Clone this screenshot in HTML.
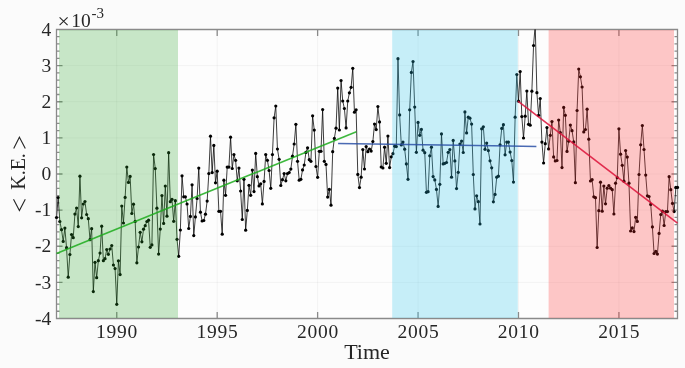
<!DOCTYPE html>
<html><head><meta charset="utf-8"><style>
html,body{margin:0;padding:0;background:#fbfbfb;}
body{width:685px;height:368px;overflow:hidden;font-family:"Liberation Serif",serif;}
svg{display:block;}
</style></head><body>
<svg width="685" height="368" viewBox="0 0 685 368">
<rect x="0" y="0" width="685" height="368" fill="#fbfbfb"/>
<rect x="56" y="29" width="622" height="290" fill="#fdfdfd"/>
<path d="M116.76 29.5V318.5M217.19 29.5V318.5M317.62 29.5V318.5M418.05 29.5V318.5M518.48 29.5V318.5M618.92 29.5V318.5M56.5 282.38H677.5M56.5 246.25H677.5M56.5 210.12H677.5M56.5 174.0H677.5M56.5 137.88H677.5M56.5 101.75H677.5M56.5 65.62H677.5" stroke="#000000" stroke-opacity="0.045" stroke-width="1" fill="none"/>
<path d="M56.5 29.5H677.5V318.5H56.5ZM116.76 318v-6M116.76 30v6M217.19 318v-6M217.19 30v6M317.62 318v-6M317.62 30v6M418.05 318v-6M418.05 30v6M518.48 318v-6M518.48 30v6M618.92 318v-6M618.92 30v6M56.5 318.5h6M677.5 318.5h-6M56.5 311.27h3M677.5 311.27h-3M56.5 304.05h3M677.5 304.05h-3M56.5 296.82h3M677.5 296.82h-3M56.5 289.6h3M677.5 289.6h-3M56.5 282.38h6M677.5 282.38h-6M56.5 275.15h3M677.5 275.15h-3M56.5 267.92h3M677.5 267.92h-3M56.5 260.7h3M677.5 260.7h-3M56.5 253.47h3M677.5 253.47h-3M56.5 246.25h6M677.5 246.25h-6M56.5 239.03h3M677.5 239.03h-3M56.5 231.8h3M677.5 231.8h-3M56.5 224.58h3M677.5 224.58h-3M56.5 217.35h3M677.5 217.35h-3M56.5 210.12h6M677.5 210.12h-6M56.5 202.9h3M677.5 202.9h-3M56.5 195.67h3M677.5 195.67h-3M56.5 188.45h3M677.5 188.45h-3M56.5 181.22h3M677.5 181.22h-3M56.5 174.0h6M677.5 174.0h-6M56.5 166.78h3M677.5 166.78h-3M56.5 159.55h3M677.5 159.55h-3M56.5 152.32h3M677.5 152.32h-3M56.5 145.1h3M677.5 145.1h-3M56.5 137.88h6M677.5 137.88h-6M56.5 130.65h3M677.5 130.65h-3M56.5 123.42h3M677.5 123.42h-3M56.5 116.2h3M677.5 116.2h-3M56.5 108.97h3M677.5 108.97h-3M56.5 101.75h6M677.5 101.75h-6M56.5 94.52h3M677.5 94.52h-3M56.5 87.3h3M677.5 87.3h-3M56.5 80.07h3M677.5 80.07h-3M56.5 72.85h3M677.5 72.85h-3M56.5 65.62h6M677.5 65.62h-6M56.5 58.4h3M677.5 58.4h-3M56.5 51.17h3M677.5 51.17h-3M56.5 43.95h3M677.5 43.95h-3M56.5 36.72h3M677.5 36.72h-3M56.5 29.5h6M677.5 29.5h-6" stroke="#8a8a8a" stroke-width="1.3" fill="none"/>
<defs><clipPath id="c"><rect x="56.5" y="29.5" width="621.0" height="289.0"/></clipPath></defs>
<g clip-path="url(#c)">
<path d="M56.50 217.5 L58.17 197.5 L59.85 221.5 L61.52 229.7 L63.20 241.4 L64.87 228.1 L66.54 247.7 L68.22 277.2 L69.89 254.5 L71.56 234.6 L73.24 237.7 L74.91 214.1 L76.59 208.0 L78.26 226.6 L79.93 176.2 L81.61 217.8 L83.28 204.0 L84.96 201.5 L86.63 214.5 L88.30 218.7 L89.98 239.7 L91.65 228.7 L93.32 291.6 L95.00 262.3 L96.67 277.7 L98.35 260.7 L100.02 253.1 L101.69 226.2 L103.37 260.7 L105.04 258.7 L106.72 249.5 L108.39 254.3 L110.06 249.0 L111.74 245.5 L113.41 265.0 L115.08 268.6 L116.76 304.3 L118.43 260.8 L120.11 274.6 L121.78 206.0 L123.45 223.0 L125.13 197.4 L126.80 167.0 L128.48 182.4 L130.15 176.4 L131.82 213.5 L133.50 204.2 L135.17 221.4 L136.85 262.8 L138.52 247.0 L140.19 232.3 L141.87 241.8 L143.54 229.2 L145.21 225.7 L146.89 221.5 L148.56 220.2 L150.24 247.3 L151.91 244.9 L153.58 154.5 L155.26 168.6 L156.93 208.2 L158.61 254.1 L160.28 229.1 L161.95 195.6 L163.63 223.4 L165.30 186.0 L166.97 216.2 L168.65 152.7 L170.32 201.7 L172.00 199.3 L173.67 221.3 L175.34 200.7 L177.02 239.3 L178.69 256.3 L180.37 230.0 L182.04 175.8 L183.71 196.8 L185.39 196.8 L187.06 204.0 L188.73 228.5 L190.41 216.4 L192.08 184.8 L193.76 235.6 L195.43 216.9 L197.10 198.5 L198.78 168.1 L200.45 212.2 L202.13 221.0 L203.80 220.5 L205.47 214.2 L207.15 201.1 L208.82 173.6 L210.49 136.2 L212.17 172.6 L213.84 145.4 L215.52 182.8 L217.19 171.2 L218.86 211.3 L220.54 211.3 L222.21 234.2 L223.89 180.2 L225.56 195.3 L227.23 167.1 L228.91 167.1 L230.58 137.2 L232.25 168.5 L233.93 154.6 L235.60 160.3 L237.28 180.8 L238.95 168.1 L240.62 191.0 L242.30 219.5 L243.97 179.3 L245.65 230.2 L247.32 210.4 L248.99 185.3 L250.67 195.3 L252.34 170.1 L254.01 191.6 L255.69 153.4 L257.36 176.7 L259.04 185.9 L260.71 183.8 L262.38 203.9 L264.06 181.4 L265.73 154.6 L267.41 160.3 L269.08 170.5 L270.75 188.3 L272.43 154.6 L274.10 117.8 L275.77 106.0 L277.45 149.0 L279.12 159.3 L280.80 185.5 L282.47 179.7 L284.14 173.6 L285.82 180.8 L287.49 173.6 L289.17 172.6 L290.84 169.1 L292.51 156.2 L294.19 144.0 L295.86 124.3 L297.54 161.3 L299.21 180.2 L300.88 179.3 L302.56 169.9 L304.23 165.0 L305.90 152.4 L307.58 147.8 L309.25 159.7 L310.93 161.3 L312.60 115.8 L314.27 130.1 L315.95 166.5 L317.62 177.3 L319.30 151.3 L320.97 151.3 L322.64 109.6 L324.32 161.3 L325.99 164.4 L327.66 197.1 L329.34 189.4 L331.01 205.2 L332.69 151.7 L334.36 138.4 L336.03 128.2 L337.71 88.1 L339.38 130.0 L341.06 80.5 L342.73 101.0 L344.40 108.5 L346.08 127.9 L347.75 101.0 L349.42 92.8 L351.10 87.3 L352.77 68.3 L354.45 112.2 L356.12 109.8 L357.79 174.4 L359.47 187.6 L361.14 177.2 L362.82 149.6 L364.49 169.0 L366.16 146.6 L367.84 151.7 L369.51 149.0 L371.18 151.1 L372.86 141.5 L374.53 124.1 L376.21 129.6 L377.88 106.5 L379.55 121.9 L381.23 167.0 L382.90 168.0 L384.58 147.2 L386.25 163.3 L387.92 136.0 L389.60 167.6 L391.27 156.8 L392.94 153.7 L394.62 146.2 L396.29 146.6 L397.97 58.7 L399.64 114.9 L401.31 144.9 L402.99 142.1 L404.66 149.2 L406.34 163.9 L408.01 179.3 L409.68 109.8 L411.36 72.4 L413.03 61.5 L414.70 107.1 L416.38 152.3 L418.05 122.4 L419.73 135.3 L421.40 129.4 L423.07 150.2 L424.75 152.7 L426.42 192.3 L428.10 191.7 L429.77 155.8 L431.44 147.2 L433.12 176.6 L434.79 179.9 L436.46 189.4 L438.14 206.4 L439.81 184.3 L441.49 133.9 L443.16 163.9 L444.83 163.3 L446.51 162.5 L448.18 152.3 L449.86 149.6 L451.53 177.2 L453.20 140.4 L454.88 160.9 L456.55 188.6 L458.23 172.3 L459.90 144.1 L461.57 141.1 L463.25 152.5 L464.92 111.9 L466.59 132.9 L468.27 117.2 L469.94 118.2 L471.62 124.1 L473.29 174.5 L474.96 208.9 L476.64 195.8 L478.31 201.7 L479.99 224.0 L481.66 128.8 L483.33 126.8 L485.01 149.3 L486.68 143.1 L488.35 150.6 L490.03 160.8 L491.70 167.8 L493.38 201.8 L495.05 194.4 L496.72 177.2 L498.40 176.2 L500.07 144.8 L501.75 128.4 L503.42 124.7 L505.09 154.8 L506.77 142.1 L508.44 142.1 L510.11 152.1 L511.79 160.6 L513.46 182.1 L515.14 117.2 L516.81 74.5 L518.48 101.2 L520.16 71.6 L521.83 116.6 L523.51 138.0 L525.18 116.2 L526.85 91.0 L528.53 124.3 L530.20 125.2 L531.87 91.2 L533.55 45.5 L535.22 25.0 L536.90 92.7 L538.57 115.3 L540.24 98.5 L541.92 142.1 L543.59 163.0 L545.27 143.7 L546.94 127.6 L548.61 148.9 L550.29 135.3 L551.96 121.5 L553.63 156.9 L555.31 161.0 L556.98 160.5 L558.66 120.0 L560.33 132.5 L562.00 167.6 L563.68 107.4 L565.35 115.3 L567.03 151.4 L568.70 141.2 L570.37 125.1 L572.05 130.7 L573.72 141.9 L575.39 182.7 L577.07 110.5 L578.74 69.0 L580.42 76.8 L582.09 87.0 L583.76 131.9 L585.44 129.5 L587.11 109.2 L588.79 139.2 L590.46 181.0 L592.13 179.7 L593.81 196.8 L595.48 197.7 L597.15 247.5 L598.83 210.7 L600.50 182.2 L602.18 211.2 L603.85 186.0 L605.52 203.8 L607.20 188.2 L608.87 185.5 L610.55 188.2 L612.22 189.7 L613.89 214.0 L615.57 183.2 L617.24 177.7 L618.92 128.8 L620.59 154.2 L622.26 165.3 L623.94 181.2 L625.61 150.5 L627.28 157.1 L628.96 183.2 L630.63 231.0 L632.31 227.9 L633.98 231.6 L635.65 217.3 L637.33 221.4 L639.00 174.5 L640.68 144.8 L642.35 125.5 L644.02 149.5 L645.70 175.1 L647.37 195.8 L649.04 196.5 L650.72 204.4 L652.39 226.9 L654.07 253.5 L655.74 251.4 L657.41 254.1 L659.09 233.4 L660.76 214.6 L662.44 211.2 L664.11 225.5 L665.78 211.6 L667.46 211.6 L669.13 176.7 L670.80 189.7 L672.48 203.4 L674.15 211.6 L675.83 187.4 L677.50 187.4" stroke="#000" stroke-width="0.9" fill="none" stroke-linejoin="round" stroke-opacity="0.85"/>
</g>
<g fill="#000"><circle cx="56.50" cy="217.5" r="1.6"/><circle cx="58.17" cy="197.5" r="1.6"/><circle cx="59.85" cy="221.5" r="1.6"/><circle cx="61.52" cy="229.7" r="1.6"/><circle cx="63.20" cy="241.4" r="1.6"/><circle cx="64.87" cy="228.1" r="1.6"/><circle cx="66.54" cy="247.7" r="1.6"/><circle cx="68.22" cy="277.2" r="1.6"/><circle cx="69.89" cy="254.5" r="1.6"/><circle cx="71.56" cy="234.6" r="1.6"/><circle cx="73.24" cy="237.7" r="1.6"/><circle cx="74.91" cy="214.1" r="1.6"/><circle cx="76.59" cy="208.0" r="1.6"/><circle cx="78.26" cy="226.6" r="1.6"/><circle cx="79.93" cy="176.2" r="1.6"/><circle cx="81.61" cy="217.8" r="1.6"/><circle cx="83.28" cy="204.0" r="1.6"/><circle cx="84.96" cy="201.5" r="1.6"/><circle cx="86.63" cy="214.5" r="1.6"/><circle cx="88.30" cy="218.7" r="1.6"/><circle cx="89.98" cy="239.7" r="1.6"/><circle cx="91.65" cy="228.7" r="1.6"/><circle cx="93.32" cy="291.6" r="1.6"/><circle cx="95.00" cy="262.3" r="1.6"/><circle cx="96.67" cy="277.7" r="1.6"/><circle cx="98.35" cy="260.7" r="1.6"/><circle cx="100.02" cy="253.1" r="1.6"/><circle cx="101.69" cy="226.2" r="1.6"/><circle cx="103.37" cy="260.7" r="1.6"/><circle cx="105.04" cy="258.7" r="1.6"/><circle cx="106.72" cy="249.5" r="1.6"/><circle cx="108.39" cy="254.3" r="1.6"/><circle cx="110.06" cy="249.0" r="1.6"/><circle cx="111.74" cy="245.5" r="1.6"/><circle cx="113.41" cy="265.0" r="1.6"/><circle cx="115.08" cy="268.6" r="1.6"/><circle cx="116.76" cy="304.3" r="1.6"/><circle cx="118.43" cy="260.8" r="1.6"/><circle cx="120.11" cy="274.6" r="1.6"/><circle cx="121.78" cy="206.0" r="1.6"/><circle cx="123.45" cy="223.0" r="1.6"/><circle cx="125.13" cy="197.4" r="1.6"/><circle cx="126.80" cy="167.0" r="1.6"/><circle cx="128.48" cy="182.4" r="1.6"/><circle cx="130.15" cy="176.4" r="1.6"/><circle cx="131.82" cy="213.5" r="1.6"/><circle cx="133.50" cy="204.2" r="1.6"/><circle cx="135.17" cy="221.4" r="1.6"/><circle cx="136.85" cy="262.8" r="1.6"/><circle cx="138.52" cy="247.0" r="1.6"/><circle cx="140.19" cy="232.3" r="1.6"/><circle cx="141.87" cy="241.8" r="1.6"/><circle cx="143.54" cy="229.2" r="1.6"/><circle cx="145.21" cy="225.7" r="1.6"/><circle cx="146.89" cy="221.5" r="1.6"/><circle cx="148.56" cy="220.2" r="1.6"/><circle cx="150.24" cy="247.3" r="1.6"/><circle cx="151.91" cy="244.9" r="1.6"/><circle cx="153.58" cy="154.5" r="1.6"/><circle cx="155.26" cy="168.6" r="1.6"/><circle cx="156.93" cy="208.2" r="1.6"/><circle cx="158.61" cy="254.1" r="1.6"/><circle cx="160.28" cy="229.1" r="1.6"/><circle cx="161.95" cy="195.6" r="1.6"/><circle cx="163.63" cy="223.4" r="1.6"/><circle cx="165.30" cy="186.0" r="1.6"/><circle cx="166.97" cy="216.2" r="1.6"/><circle cx="168.65" cy="152.7" r="1.6"/><circle cx="170.32" cy="201.7" r="1.6"/><circle cx="172.00" cy="199.3" r="1.6"/><circle cx="173.67" cy="221.3" r="1.6"/><circle cx="175.34" cy="200.7" r="1.6"/><circle cx="177.02" cy="239.3" r="1.6"/><circle cx="178.69" cy="256.3" r="1.6"/><circle cx="180.37" cy="230.0" r="1.6"/><circle cx="182.04" cy="175.8" r="1.6"/><circle cx="183.71" cy="196.8" r="1.6"/><circle cx="185.39" cy="196.8" r="1.6"/><circle cx="187.06" cy="204.0" r="1.6"/><circle cx="188.73" cy="228.5" r="1.6"/><circle cx="190.41" cy="216.4" r="1.6"/><circle cx="192.08" cy="184.8" r="1.6"/><circle cx="193.76" cy="235.6" r="1.6"/><circle cx="195.43" cy="216.9" r="1.6"/><circle cx="197.10" cy="198.5" r="1.6"/><circle cx="198.78" cy="168.1" r="1.6"/><circle cx="200.45" cy="212.2" r="1.6"/><circle cx="202.13" cy="221.0" r="1.6"/><circle cx="203.80" cy="220.5" r="1.6"/><circle cx="205.47" cy="214.2" r="1.6"/><circle cx="207.15" cy="201.1" r="1.6"/><circle cx="208.82" cy="173.6" r="1.6"/><circle cx="210.49" cy="136.2" r="1.6"/><circle cx="212.17" cy="172.6" r="1.6"/><circle cx="213.84" cy="145.4" r="1.6"/><circle cx="215.52" cy="182.8" r="1.6"/><circle cx="217.19" cy="171.2" r="1.6"/><circle cx="218.86" cy="211.3" r="1.6"/><circle cx="220.54" cy="211.3" r="1.6"/><circle cx="222.21" cy="234.2" r="1.6"/><circle cx="223.89" cy="180.2" r="1.6"/><circle cx="225.56" cy="195.3" r="1.6"/><circle cx="227.23" cy="167.1" r="1.6"/><circle cx="228.91" cy="167.1" r="1.6"/><circle cx="230.58" cy="137.2" r="1.6"/><circle cx="232.25" cy="168.5" r="1.6"/><circle cx="233.93" cy="154.6" r="1.6"/><circle cx="235.60" cy="160.3" r="1.6"/><circle cx="237.28" cy="180.8" r="1.6"/><circle cx="238.95" cy="168.1" r="1.6"/><circle cx="240.62" cy="191.0" r="1.6"/><circle cx="242.30" cy="219.5" r="1.6"/><circle cx="243.97" cy="179.3" r="1.6"/><circle cx="245.65" cy="230.2" r="1.6"/><circle cx="247.32" cy="210.4" r="1.6"/><circle cx="248.99" cy="185.3" r="1.6"/><circle cx="250.67" cy="195.3" r="1.6"/><circle cx="252.34" cy="170.1" r="1.6"/><circle cx="254.01" cy="191.6" r="1.6"/><circle cx="255.69" cy="153.4" r="1.6"/><circle cx="257.36" cy="176.7" r="1.6"/><circle cx="259.04" cy="185.9" r="1.6"/><circle cx="260.71" cy="183.8" r="1.6"/><circle cx="262.38" cy="203.9" r="1.6"/><circle cx="264.06" cy="181.4" r="1.6"/><circle cx="265.73" cy="154.6" r="1.6"/><circle cx="267.41" cy="160.3" r="1.6"/><circle cx="269.08" cy="170.5" r="1.6"/><circle cx="270.75" cy="188.3" r="1.6"/><circle cx="272.43" cy="154.6" r="1.6"/><circle cx="274.10" cy="117.8" r="1.6"/><circle cx="275.77" cy="106.0" r="1.6"/><circle cx="277.45" cy="149.0" r="1.6"/><circle cx="279.12" cy="159.3" r="1.6"/><circle cx="280.80" cy="185.5" r="1.6"/><circle cx="282.47" cy="179.7" r="1.6"/><circle cx="284.14" cy="173.6" r="1.6"/><circle cx="285.82" cy="180.8" r="1.6"/><circle cx="287.49" cy="173.6" r="1.6"/><circle cx="289.17" cy="172.6" r="1.6"/><circle cx="290.84" cy="169.1" r="1.6"/><circle cx="292.51" cy="156.2" r="1.6"/><circle cx="294.19" cy="144.0" r="1.6"/><circle cx="295.86" cy="124.3" r="1.6"/><circle cx="297.54" cy="161.3" r="1.6"/><circle cx="299.21" cy="180.2" r="1.6"/><circle cx="300.88" cy="179.3" r="1.6"/><circle cx="302.56" cy="169.9" r="1.6"/><circle cx="304.23" cy="165.0" r="1.6"/><circle cx="305.90" cy="152.4" r="1.6"/><circle cx="307.58" cy="147.8" r="1.6"/><circle cx="309.25" cy="159.7" r="1.6"/><circle cx="310.93" cy="161.3" r="1.6"/><circle cx="312.60" cy="115.8" r="1.6"/><circle cx="314.27" cy="130.1" r="1.6"/><circle cx="315.95" cy="166.5" r="1.6"/><circle cx="317.62" cy="177.3" r="1.6"/><circle cx="319.30" cy="151.3" r="1.6"/><circle cx="320.97" cy="151.3" r="1.6"/><circle cx="322.64" cy="109.6" r="1.6"/><circle cx="324.32" cy="161.3" r="1.6"/><circle cx="325.99" cy="164.4" r="1.6"/><circle cx="327.66" cy="197.1" r="1.6"/><circle cx="329.34" cy="189.4" r="1.6"/><circle cx="331.01" cy="205.2" r="1.6"/><circle cx="332.69" cy="151.7" r="1.6"/><circle cx="334.36" cy="138.4" r="1.6"/><circle cx="336.03" cy="128.2" r="1.6"/><circle cx="337.71" cy="88.1" r="1.6"/><circle cx="339.38" cy="130.0" r="1.6"/><circle cx="341.06" cy="80.5" r="1.6"/><circle cx="342.73" cy="101.0" r="1.6"/><circle cx="344.40" cy="108.5" r="1.6"/><circle cx="346.08" cy="127.9" r="1.6"/><circle cx="347.75" cy="101.0" r="1.6"/><circle cx="349.42" cy="92.8" r="1.6"/><circle cx="351.10" cy="87.3" r="1.6"/><circle cx="352.77" cy="68.3" r="1.6"/><circle cx="354.45" cy="112.2" r="1.6"/><circle cx="356.12" cy="109.8" r="1.6"/><circle cx="357.79" cy="174.4" r="1.6"/><circle cx="359.47" cy="187.6" r="1.6"/><circle cx="361.14" cy="177.2" r="1.6"/><circle cx="362.82" cy="149.6" r="1.6"/><circle cx="364.49" cy="169.0" r="1.6"/><circle cx="366.16" cy="146.6" r="1.6"/><circle cx="367.84" cy="151.7" r="1.6"/><circle cx="369.51" cy="149.0" r="1.6"/><circle cx="371.18" cy="151.1" r="1.6"/><circle cx="372.86" cy="141.5" r="1.6"/><circle cx="374.53" cy="124.1" r="1.6"/><circle cx="376.21" cy="129.6" r="1.6"/><circle cx="377.88" cy="106.5" r="1.6"/><circle cx="379.55" cy="121.9" r="1.6"/><circle cx="381.23" cy="167.0" r="1.6"/><circle cx="382.90" cy="168.0" r="1.6"/><circle cx="384.58" cy="147.2" r="1.6"/><circle cx="386.25" cy="163.3" r="1.6"/><circle cx="387.92" cy="136.0" r="1.6"/><circle cx="389.60" cy="167.6" r="1.6"/><circle cx="391.27" cy="156.8" r="1.6"/><circle cx="392.94" cy="153.7" r="1.6"/><circle cx="394.62" cy="146.2" r="1.6"/><circle cx="396.29" cy="146.6" r="1.6"/><circle cx="397.97" cy="58.7" r="1.6"/><circle cx="399.64" cy="114.9" r="1.6"/><circle cx="401.31" cy="144.9" r="1.6"/><circle cx="402.99" cy="142.1" r="1.6"/><circle cx="404.66" cy="149.2" r="1.6"/><circle cx="406.34" cy="163.9" r="1.6"/><circle cx="408.01" cy="179.3" r="1.6"/><circle cx="409.68" cy="109.8" r="1.6"/><circle cx="411.36" cy="72.4" r="1.6"/><circle cx="413.03" cy="61.5" r="1.6"/><circle cx="414.70" cy="107.1" r="1.6"/><circle cx="416.38" cy="152.3" r="1.6"/><circle cx="418.05" cy="122.4" r="1.6"/><circle cx="419.73" cy="135.3" r="1.6"/><circle cx="421.40" cy="129.4" r="1.6"/><circle cx="423.07" cy="150.2" r="1.6"/><circle cx="424.75" cy="152.7" r="1.6"/><circle cx="426.42" cy="192.3" r="1.6"/><circle cx="428.10" cy="191.7" r="1.6"/><circle cx="429.77" cy="155.8" r="1.6"/><circle cx="431.44" cy="147.2" r="1.6"/><circle cx="433.12" cy="176.6" r="1.6"/><circle cx="434.79" cy="179.9" r="1.6"/><circle cx="436.46" cy="189.4" r="1.6"/><circle cx="438.14" cy="206.4" r="1.6"/><circle cx="439.81" cy="184.3" r="1.6"/><circle cx="441.49" cy="133.9" r="1.6"/><circle cx="443.16" cy="163.9" r="1.6"/><circle cx="444.83" cy="163.3" r="1.6"/><circle cx="446.51" cy="162.5" r="1.6"/><circle cx="448.18" cy="152.3" r="1.6"/><circle cx="449.86" cy="149.6" r="1.6"/><circle cx="451.53" cy="177.2" r="1.6"/><circle cx="453.20" cy="140.4" r="1.6"/><circle cx="454.88" cy="160.9" r="1.6"/><circle cx="456.55" cy="188.6" r="1.6"/><circle cx="458.23" cy="172.3" r="1.6"/><circle cx="459.90" cy="144.1" r="1.6"/><circle cx="461.57" cy="141.1" r="1.6"/><circle cx="463.25" cy="152.5" r="1.6"/><circle cx="464.92" cy="111.9" r="1.6"/><circle cx="466.59" cy="132.9" r="1.6"/><circle cx="468.27" cy="117.2" r="1.6"/><circle cx="469.94" cy="118.2" r="1.6"/><circle cx="471.62" cy="124.1" r="1.6"/><circle cx="473.29" cy="174.5" r="1.6"/><circle cx="474.96" cy="208.9" r="1.6"/><circle cx="476.64" cy="195.8" r="1.6"/><circle cx="478.31" cy="201.7" r="1.6"/><circle cx="479.99" cy="224.0" r="1.6"/><circle cx="481.66" cy="128.8" r="1.6"/><circle cx="483.33" cy="126.8" r="1.6"/><circle cx="485.01" cy="149.3" r="1.6"/><circle cx="486.68" cy="143.1" r="1.6"/><circle cx="488.35" cy="150.6" r="1.6"/><circle cx="490.03" cy="160.8" r="1.6"/><circle cx="491.70" cy="167.8" r="1.6"/><circle cx="493.38" cy="201.8" r="1.6"/><circle cx="495.05" cy="194.4" r="1.6"/><circle cx="496.72" cy="177.2" r="1.6"/><circle cx="498.40" cy="176.2" r="1.6"/><circle cx="500.07" cy="144.8" r="1.6"/><circle cx="501.75" cy="128.4" r="1.6"/><circle cx="503.42" cy="124.7" r="1.6"/><circle cx="505.09" cy="154.8" r="1.6"/><circle cx="506.77" cy="142.1" r="1.6"/><circle cx="508.44" cy="142.1" r="1.6"/><circle cx="510.11" cy="152.1" r="1.6"/><circle cx="511.79" cy="160.6" r="1.6"/><circle cx="513.46" cy="182.1" r="1.6"/><circle cx="515.14" cy="117.2" r="1.6"/><circle cx="516.81" cy="74.5" r="1.6"/><circle cx="518.48" cy="101.2" r="1.6"/><circle cx="520.16" cy="71.6" r="1.6"/><circle cx="521.83" cy="116.6" r="1.6"/><circle cx="523.51" cy="138.0" r="1.6"/><circle cx="525.18" cy="116.2" r="1.6"/><circle cx="526.85" cy="91.0" r="1.6"/><circle cx="528.53" cy="124.3" r="1.6"/><circle cx="530.20" cy="125.2" r="1.6"/><circle cx="531.87" cy="91.2" r="1.6"/><circle cx="533.55" cy="45.5" r="1.6"/><circle cx="536.90" cy="92.7" r="1.6"/><circle cx="538.57" cy="115.3" r="1.6"/><circle cx="540.24" cy="98.5" r="1.6"/><circle cx="541.92" cy="142.1" r="1.6"/><circle cx="543.59" cy="163.0" r="1.6"/><circle cx="545.27" cy="143.7" r="1.6"/><circle cx="546.94" cy="127.6" r="1.6"/><circle cx="548.61" cy="148.9" r="1.6"/><circle cx="550.29" cy="135.3" r="1.6"/><circle cx="551.96" cy="121.5" r="1.6"/><circle cx="553.63" cy="156.9" r="1.6"/><circle cx="555.31" cy="161.0" r="1.6"/><circle cx="556.98" cy="160.5" r="1.6"/><circle cx="558.66" cy="120.0" r="1.6"/><circle cx="560.33" cy="132.5" r="1.6"/><circle cx="562.00" cy="167.6" r="1.6"/><circle cx="563.68" cy="107.4" r="1.6"/><circle cx="565.35" cy="115.3" r="1.6"/><circle cx="567.03" cy="151.4" r="1.6"/><circle cx="568.70" cy="141.2" r="1.6"/><circle cx="570.37" cy="125.1" r="1.6"/><circle cx="572.05" cy="130.7" r="1.6"/><circle cx="573.72" cy="141.9" r="1.6"/><circle cx="575.39" cy="182.7" r="1.6"/><circle cx="577.07" cy="110.5" r="1.6"/><circle cx="578.74" cy="69.0" r="1.6"/><circle cx="580.42" cy="76.8" r="1.6"/><circle cx="582.09" cy="87.0" r="1.6"/><circle cx="583.76" cy="131.9" r="1.6"/><circle cx="585.44" cy="129.5" r="1.6"/><circle cx="587.11" cy="109.2" r="1.6"/><circle cx="588.79" cy="139.2" r="1.6"/><circle cx="590.46" cy="181.0" r="1.6"/><circle cx="592.13" cy="179.7" r="1.6"/><circle cx="593.81" cy="196.8" r="1.6"/><circle cx="595.48" cy="197.7" r="1.6"/><circle cx="597.15" cy="247.5" r="1.6"/><circle cx="598.83" cy="210.7" r="1.6"/><circle cx="600.50" cy="182.2" r="1.6"/><circle cx="602.18" cy="211.2" r="1.6"/><circle cx="603.85" cy="186.0" r="1.6"/><circle cx="605.52" cy="203.8" r="1.6"/><circle cx="607.20" cy="188.2" r="1.6"/><circle cx="608.87" cy="185.5" r="1.6"/><circle cx="610.55" cy="188.2" r="1.6"/><circle cx="612.22" cy="189.7" r="1.6"/><circle cx="613.89" cy="214.0" r="1.6"/><circle cx="615.57" cy="183.2" r="1.6"/><circle cx="617.24" cy="177.7" r="1.6"/><circle cx="618.92" cy="128.8" r="1.6"/><circle cx="620.59" cy="154.2" r="1.6"/><circle cx="622.26" cy="165.3" r="1.6"/><circle cx="623.94" cy="181.2" r="1.6"/><circle cx="625.61" cy="150.5" r="1.6"/><circle cx="627.28" cy="157.1" r="1.6"/><circle cx="628.96" cy="183.2" r="1.6"/><circle cx="630.63" cy="231.0" r="1.6"/><circle cx="632.31" cy="227.9" r="1.6"/><circle cx="633.98" cy="231.6" r="1.6"/><circle cx="635.65" cy="217.3" r="1.6"/><circle cx="637.33" cy="221.4" r="1.6"/><circle cx="639.00" cy="174.5" r="1.6"/><circle cx="640.68" cy="144.8" r="1.6"/><circle cx="642.35" cy="125.5" r="1.6"/><circle cx="644.02" cy="149.5" r="1.6"/><circle cx="645.70" cy="175.1" r="1.6"/><circle cx="647.37" cy="195.8" r="1.6"/><circle cx="649.04" cy="196.5" r="1.6"/><circle cx="650.72" cy="204.4" r="1.6"/><circle cx="652.39" cy="226.9" r="1.6"/><circle cx="654.07" cy="253.5" r="1.6"/><circle cx="655.74" cy="251.4" r="1.6"/><circle cx="657.41" cy="254.1" r="1.6"/><circle cx="659.09" cy="233.4" r="1.6"/><circle cx="660.76" cy="214.6" r="1.6"/><circle cx="662.44" cy="211.2" r="1.6"/><circle cx="664.11" cy="225.5" r="1.6"/><circle cx="665.78" cy="211.6" r="1.6"/><circle cx="667.46" cy="211.6" r="1.6"/><circle cx="669.13" cy="176.7" r="1.6"/><circle cx="670.80" cy="189.7" r="1.6"/><circle cx="672.48" cy="203.4" r="1.6"/><circle cx="674.15" cy="211.6" r="1.6"/><circle cx="675.83" cy="187.4" r="1.6"/><circle cx="677.50" cy="187.4" r="1.6"/></g>
<g fill-opacity="0.25">
<rect x="59" y="30" width="119" height="288" fill="rgb(39,163,39)"/>
<rect x="392.2" y="30" width="125.59999999999997" height="288" fill="rgb(35,195,235)"/>
<rect x="548.6" y="30" width="125.39999999999998" height="288" fill="rgb(255,35,35)"/>
</g>
<g fill="none" stroke-opacity="0.85">
<path d="M56.5 253.5L356.4 131.7" stroke="#1cac1c" stroke-width="1.6"/>
<path d="M338.1 143.4L536.4 146.4" stroke="#2a50a6" stroke-width="1.5"/>
<path d="M517.9 101.2L677.5 223.2" stroke="#dc1038" stroke-width="1.6"/>
</g>
<g font-family="Liberation Serif" font-size="19.5" fill="#262626" style="filter:grayscale(1)">
<text x="117.1" y="338.1" text-anchor="middle" letter-spacing="0.75">1990</text>
<text x="217.5" y="338.1" text-anchor="middle" letter-spacing="0.75">1995</text>
<text x="317.9" y="338.1" text-anchor="middle" letter-spacing="0.75">2000</text>
<text x="418.4" y="338.1" text-anchor="middle" letter-spacing="0.75">2005</text>
<text x="518.8" y="338.1" text-anchor="middle" letter-spacing="0.75">2010</text>
<text x="619.2" y="338.1" text-anchor="middle" letter-spacing="0.75">2015</text>
<text x="51.2" y="324.7" text-anchor="end">-4</text>
<text x="51.2" y="288.6" text-anchor="end">-3</text>
<text x="51.2" y="252.4" text-anchor="end">-2</text>
<text x="51.2" y="216.3" text-anchor="end">-1</text>
<text x="51.2" y="180.2" text-anchor="end">0</text>
<text x="51.2" y="144.1" text-anchor="end">1</text>
<text x="51.2" y="108.0" text-anchor="end">2</text>
<text x="51.2" y="71.8" text-anchor="end">3</text>
<text x="51.2" y="35.7" text-anchor="end">4</text>
<text x="367" y="358.7" text-anchor="middle" font-size="22">Time</text>
<text transform="translate(24.6 189.8) rotate(-90)" font-size="20">K.E.</text>
<text x="71.2" y="27.2">10</text>
<text x="91.6" y="18.4" font-size="15">-3</text>
</g>
<path d="M13.5 199.2L19.4 210.6L25.3 199.2M13.7 148.4L19.4 137.2L25.3 148.4M59.6 17.4L67.6 25.2M67.6 17.4L59.6 25.2" stroke="#262626" stroke-width="1.1" fill="none"/>
</svg>
</body></html>
